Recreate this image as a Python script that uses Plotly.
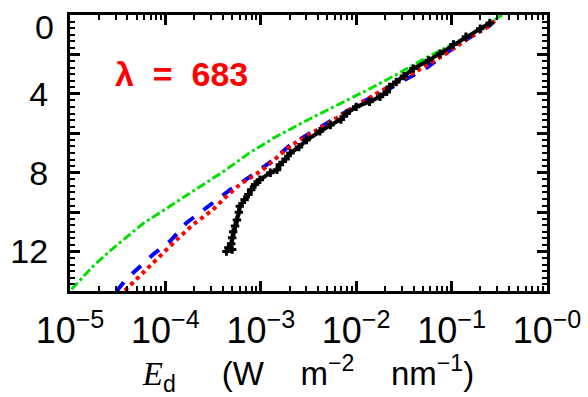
import plotly.graph_objects as go

# depth (m) and log10(Ed)
green_depth = [0.0, 0.7, 1.4, 2.2, 3.0, 3.7, 4.5, 5.3, 6.2, 7.0, 7.9, 8.7, 9.4, 10.0, 10.6, 11.3, 12.0, 12.8, 13.5, 14.0]
green_loged = [-0.47, -0.70, -0.96, -1.28, -1.57, -1.84, -2.17, -2.50, -2.85, -3.12, -3.38, -3.63, -3.86, -4.05, -4.24, -4.42, -4.59, -4.77, -4.91, -5.00]

blue_depth = [0.3, 0.53, 1.2, 2.0, 2.64, 3.22, 3.73, 4.4, 5.08, 5.75, 6.59, 7.35, 8.1, 8.86, 9.79, 10.55, 11.47, 12.15, 13.4, 14.0]
blue_loged = [-0.55, -0.60, -0.83, -1.08, -1.25, -1.47, -1.65, -1.93, -2.17, -2.41, -2.69, -2.87, -3.08, -3.32, -3.57, -3.78, -3.95, -4.13, -4.41, -4.51]

red_depth = [0.3, 0.6, 1.2, 2.0, 2.89, 4.07, 4.9, 5.67, 6.6, 7.85, 8.6, 9.2, 9.87, 10.63, 11.39, 12.23, 13.07, 13.75, 14.0]
red_loged = [-0.55, -0.62, -0.83, -1.07, -1.38, -1.82, -2.10, -2.35, -2.68, -2.98, -3.22, -3.36, -3.50, -3.71, -3.88, -4.06, -4.23, -4.39, -4.43]

black_depth = [0.4, 0.7, 1.1, 1.5, 1.96, 2.3, 2.72, 3.1, 3.4, 3.65, 3.9, 4.15, 4.4, 4.66, 5.0, 5.3, 5.58, 5.9, 6.34, 6.7, 7.0, 7.3, 7.6,
               7.85, 8.0, 8.36, 8.6, 8.86, 9.1, 9.37, 9.7, 10.0, 10.4, 10.7, 11.0, 11.3, 11.6, 11.8, 11.9, 12.0]
black_loged = [-0.60, -0.70, -0.85, -0.98, -1.12, -1.24, -1.40, -1.50, -1.58, -1.65, -1.68, -1.75, -1.86, -2.00, -2.10, -2.16, -2.27, -2.38, -2.52, -2.60, -2.69, -2.74, -2.80,
               -2.83, -2.90, -3.01, -3.06, -3.10, -3.13, -3.17, -3.22, -3.23, -3.25, -3.27, -3.29, -3.30, -3.31, -3.34, -3.30, -3.36]

x_tickvals = [1e-5, 1e-4, 1e-3, 1e-2, 1e-1, 1e0]
x_ticktext = ['10<sup>−5</sup>', '10<sup>−4</sup>', '10<sup>−3</sup>', '10<sup>−2</sup>', '10<sup>−1</sup>', '10<sup>−0</sup>']
y_tickvals = [0, 2, 4, 6, 8, 10, 12, 14]
# the top "0" label sits a bit below its tick in the reference, so it's drawn as an annotation
y_ticktext = ['', '', '4', '', '8', '', '12', '']

font_family = 'Liberation Sans, Arial, sans-serif'
nb = '\u00a0'

fig = go.Figure()
fig.add_trace(go.Scatter(
    x=[10 ** v for v in green_loged], y=green_depth,
    mode='lines', line=dict(color='#00e000', width=3, dash='dashdot')
))
fig.add_trace(go.Scatter(
    x=[10 ** v for v in blue_loged], y=blue_depth,
    mode='lines', line=dict(color='#0000ff', width=4, dash='dash')
))
fig.add_trace(go.Scatter(
    x=[10 ** v for v in red_loged], y=red_depth,
    mode='lines', line=dict(color='#ff0000', width=4, dash='dot')
))
fig.add_trace(go.Scatter(
    x=[10 ** v for v in black_loged], y=black_depth,
    mode='lines+markers', line=dict(color='black', width=4),
    marker=dict(symbol='cross-thin', size=6, line=dict(color='black', width=3))
))

fig.add_annotation(
    x=-4.55, y=2.98, xref='x', yref='y',
    text='<b>λ' + nb * 2 + '=' + nb * 2 + '683</b>', showarrow=False, xanchor='left', yanchor='middle',
    font=dict(family=font_family, size=34, color='#ff0000')
)
fig.add_annotation(
    x=-0.03, y=0.6, xref='paper', yref='y',
    text='0', showarrow=False, xanchor='right', yanchor='middle',
    font=dict(family=font_family, size=34, color='black')
)

x_title = ('<i style="font-family:Liberation Serif">E</i><sub>d</sub>' + nb * 5 + '(W' + nb * 4
           + 'm<sup>−2</sup>' + nb * 4 + 'nm<sup>−1</sup>)')

fig.update_layout(
    width=588,
    height=397,
    showlegend=False,
    margin=dict(l=70, r=41, t=15, b=106),
    plot_bgcolor='white',
    paper_bgcolor='white',
    font=dict(family=font_family, color='black', size=30),
    xaxis=dict(
        type='log', range=[-5, 0], automargin=False,
        tickmode='array', tickvals=x_tickvals, ticktext=x_ticktext,
        ticks='inside', ticklen=10, tickwidth=3, tickcolor='black',
        minor=dict(ticks='inside', ticklen=5, tickwidth=2, tickcolor='black', dtick='D1'),
        showline=True, linewidth=3, linecolor='black', mirror='allticks',
        showgrid=False, zeroline=False,
        tickfont=dict(size=36),
        ticklabelstandoff=6,
        ticklabeloverflow='allow',
        title=dict(text=x_title, font=dict(size=33), standoff=6),
    ),
    yaxis=dict(
        range=[14, 0], automargin=False,
        tickmode='array', tickvals=y_tickvals, ticktext=y_ticktext,
        ticks='inside', ticklen=10, tickwidth=3, tickcolor='black',
        minor=dict(ticks='inside', ticklen=5, tickwidth=2, tickcolor='black', dtick=1 / 3),
        showline=True, linewidth=3, linecolor='black', mirror='allticks',
        showgrid=False, zeroline=False,
        tickfont=dict(size=34),
        ticklabelstandoff=12,
        ticklabeloverflow='allow',
    ),
)

fig.write_html('out.html', config={'displayModeBar': False},
               post_script="document.body.style.margin='0';")
